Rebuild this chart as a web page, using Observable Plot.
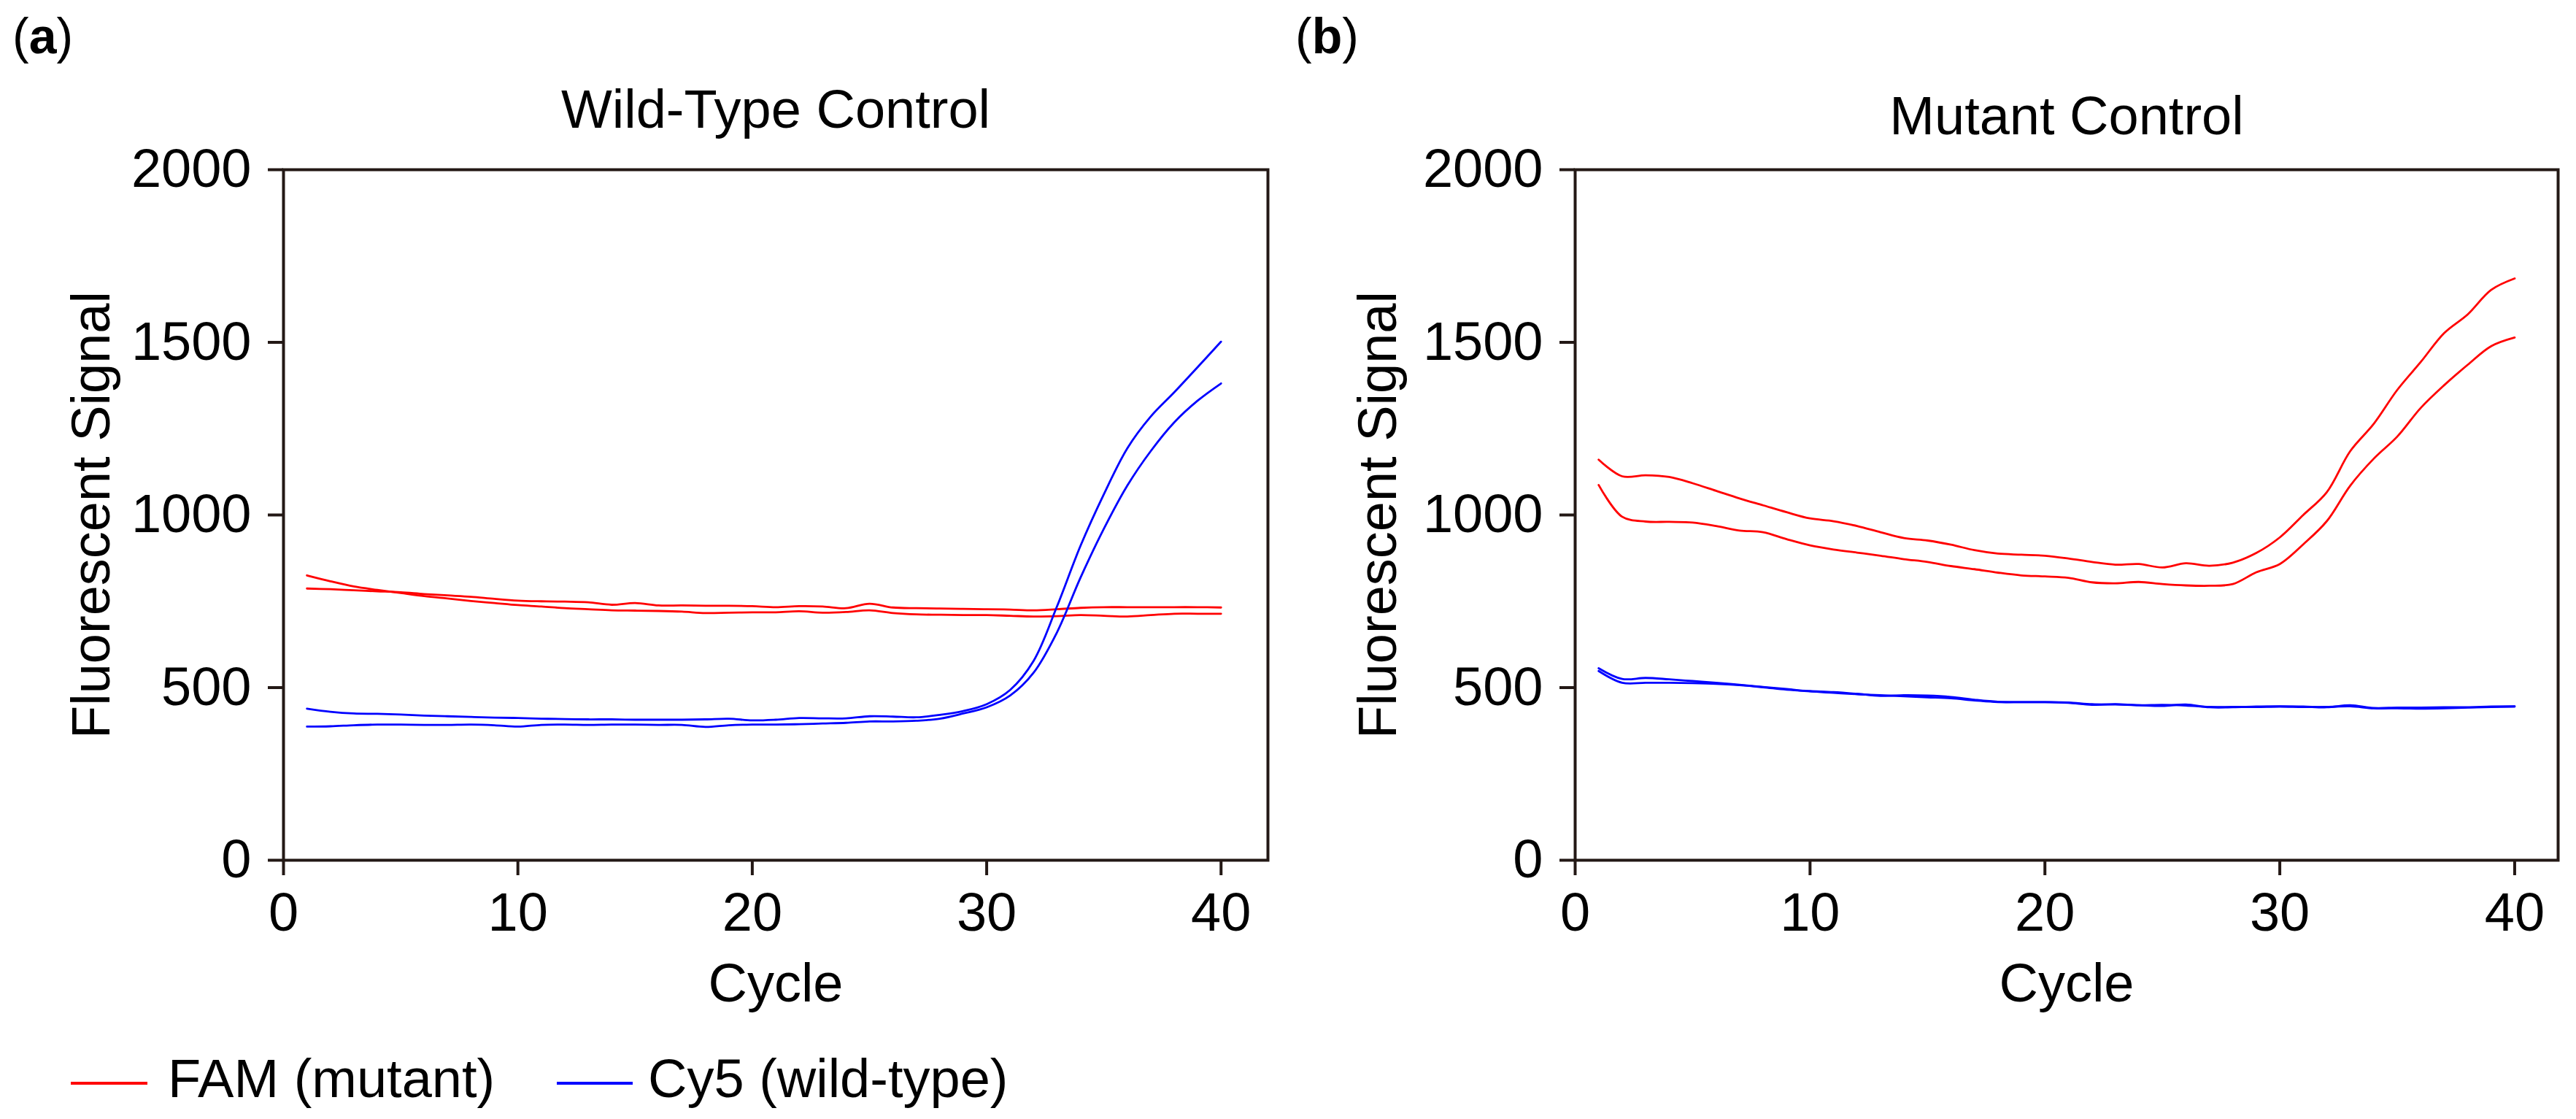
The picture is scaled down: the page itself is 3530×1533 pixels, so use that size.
<!DOCTYPE html>
<html>
<head>
<meta charset="utf-8">
<script src="https://cdn.jsdelivr.net/npm/d3@7"></script>
<script src="https://cdn.jsdelivr.net/npm/@observablehq/plot@0.6"></script>
<style>
html, body { margin: 0; padding: 0; background: #fff; }
#root { position: relative; width: 3530px; height: 1533px; overflow: hidden;
  font-family: "Liberation Sans", Arial, Helvetica, sans-serif; color: #000; }
.abs { position: absolute; white-space: nowrap; line-height: 1; }
.swatch { position: absolute; height: 4px; }
</style>
</head>
<body>
<div id="root"></div>
<script>
// ---------- data ----------
const cycles = [1,2,3,4,5,6,7,8,9,10,11,12,13,14,15,16,17,18,19,20,
                21,22,23,24,25,26,27,28,29,30,31,32,33,34,35,36,37,38,39,40];

const xTicks = [0, 10, 20, 30, 40];
const yTicks = [0, 500, 1000, 1500, 2000];

const channels = ["FAM (mutant)", "Cy5 (wild-type)"];
const channelColors = ["#ff0000", "#0000ff"];

const panelTitles = ["Wild-Type Control", "Mutant Control"];
const panelTags = ["a", "b"];

// (a) Wild-Type Control
const wtFam1 = [825,808,793,783,774,765,758,751,745,739,735,730,727,724,723,722,720,716,717,718,
                718,721,717,719,724,716,712,711,710,710,708,706,707,710,708,706,710,714,714,714];
const wtFam2 = [787,785,782,779,776,771,767,763,757,752,750,749,747,740,745,738,738,737,737,736,
                733,736,735,730,743,732,730,729,728,727,726,724,727,731,733,733,733,733,733,732];
const wtCy51 = [439,430,425,424,422,419,417,415,413,412,410,409,408,408,407,407,407,408,410,405,
                407,412,411,411,417,416,414,421,432,452,493,577,735,910,1060,1193,1285,1355,1428,1502];
const wtCy52 = [387,388,391,393,393,392,392,393,391,387,392,393,392,393,393,392,392,386,391,393,
                393,394,396,398,402,402,404,410,425,443,477,543,660,818,960,1085,1185,1268,1331,1381];

// (b) Mutant Control
const mutFam1 = [1160,1112,1115,1110,1092,1070,1048,1028,1008,990,982,968,950,933,926,914,898,888,885,882,
                 874,864,856,858,848,860,853,862,890,935,1000,1066,1185,1264,1362,1443,1527,1581,1652,1685];
const mutFam2 = [1087,995,981,980,978,968,955,950,930,912,900,891,882,872,864,852,843,833,825,822,
                 818,805,802,806,800,796,795,800,834,858,915,982,1085,1163,1227,1310,1376,1435,1489,1514];
const mutCy51 = [556,525,528,524,519,514,508,502,496,489,485,481,478,475,472,469,463,458,458,458,
                 457,452,451,449,447,451,443,443,445,446,445,443,449,441,442,442,443,443,445,446];
const mutCy52 = [548,514,514,514,513,511,507,501,494,490,487,482,476,478,477,473,465,459,458,458,
                 456,450,452,449,450,448,444,444,444,445,444,444,446,440,440,439,440,442,444,445];

// ---------- style ----------
const FONT = '"Liberation Sans", Arial, Helvetica, sans-serif';
const AXIS = "#231815";
const fmt = d3.format("d");

function buildData(list) {
  return list.flatMap(([id, channel, values]) =>
    cycles.map((c, i) => ({cycle: c, value: values[i], id, channel})));
}

function panel({title, series, width, marginRight, xMax, titleDy, ylabelDx}) {
  const data = buildData(series);
  return Plot.plot({
    width, height: 1420,
    marginLeft: 388, marginRight, marginTop: 232, marginBottom: 242,
    style: {fontFamily: FONT, fontSize: "74px", color: "#000", background: "transparent", overflow: "visible"},
    x: {domain: [0, xMax], ticks: xTicks, label: null},
    y: {domain: [0, 2000], ticks: yTicks, label: null},
    color: {domain: channels, range: channelColors},
    marks: [
      Plot.line(data, {x: "cycle", y: "value", z: "id", stroke: "channel",
                       strokeWidth: 2.8, curve: "catmull-rom"}),
      Plot.frame({stroke: AXIS, strokeWidth: 4}),
      Plot.axisX({ticks: xTicks, tickFormat: fmt, tickSize: 21, tickPadding: 23, strokeWidth: 4,
                  stroke: AXIS, fill: "#000", label: null, fontSize: 74}),
      Plot.axisY({ticks: yTicks, tickFormat: fmt, tickSize: 21, tickPadding: 23, strokeWidth: 4,
                  stroke: AXIS, fill: "#000", label: null, fontSize: 74}),
      Plot.text([title], {text: d => d, frameAnchor: "top", textAnchor: "middle", lineAnchor: "top",
                          dy: titleDy, fontSize: 74, fill: "#000"}),
      Plot.text(["Cycle"], {text: d => d, frameAnchor: "bottom", textAnchor: "middle", lineAnchor: "top",
                            dy: 141, fontSize: 74, fill: "#000"}),
      Plot.text(["Fluorescent Signal"], {text: d => d, frameAnchor: "left", textAnchor: "middle",
                                         lineAnchor: "top", rotate: -90, dx: ylabelDx,
                                         fontSize: 74, fill: "#000"})
    ]
  });
}

const root = document.getElementById("root");

function place(node, left, top) {
  node.style.position = "absolute";
  node.style.left = left + "px";
  node.style.top = top + "px";
  root.appendChild(node);
}

const pa = panel({
  title: panelTitles[0], width: 1765, marginRight: 28, xMax: 42, titleDy: -110, ylabelDx: -291,
  series: [["wf1", channels[0], wtFam1], ["wf2", channels[0], wtFam2],
           ["wc1", channels[1], wtCy51], ["wc2", channels[1], wtCy52]]
});
place(pa, 0, 0);

const pb = panel({
  title: panelTitles[1], width: 1760, marginRight: 25, xMax: 41.85, titleDy: -101, ylabelDx: -298,
  series: [["mf1", channels[0], mutFam1], ["mf2", channels[0], mutFam2],
           ["mc1", channels[1], mutCy51], ["mc2", channels[1], mutCy52]]
});
place(pb, 1770, 0);

// panel tags
[[panelTags[0], 17], [panelTags[1], 1775]].forEach(([t, left]) => {
  const d = document.createElement("div");
  d.className = "abs";
  d.style.fontSize = "68px";
  d.innerHTML = `(<b>${t}</b>)`;
  place(d, left, 15);
});

// legend
[[0, 97, 105, 230], [1, 763, 104, 888]].forEach(([i, sx, sw, tx]) => {
  const s = document.createElement("div");
  s.className = "swatch";
  s.style.width = sw + "px";
  s.style.background = channelColors[i];
  place(s, sx, 1482);
  const t = document.createElement("div");
  t.className = "abs";
  t.style.fontSize = "74px";
  t.textContent = channels[i];
  place(t, tx, 1441);
});
</script>
</body>
</html>
